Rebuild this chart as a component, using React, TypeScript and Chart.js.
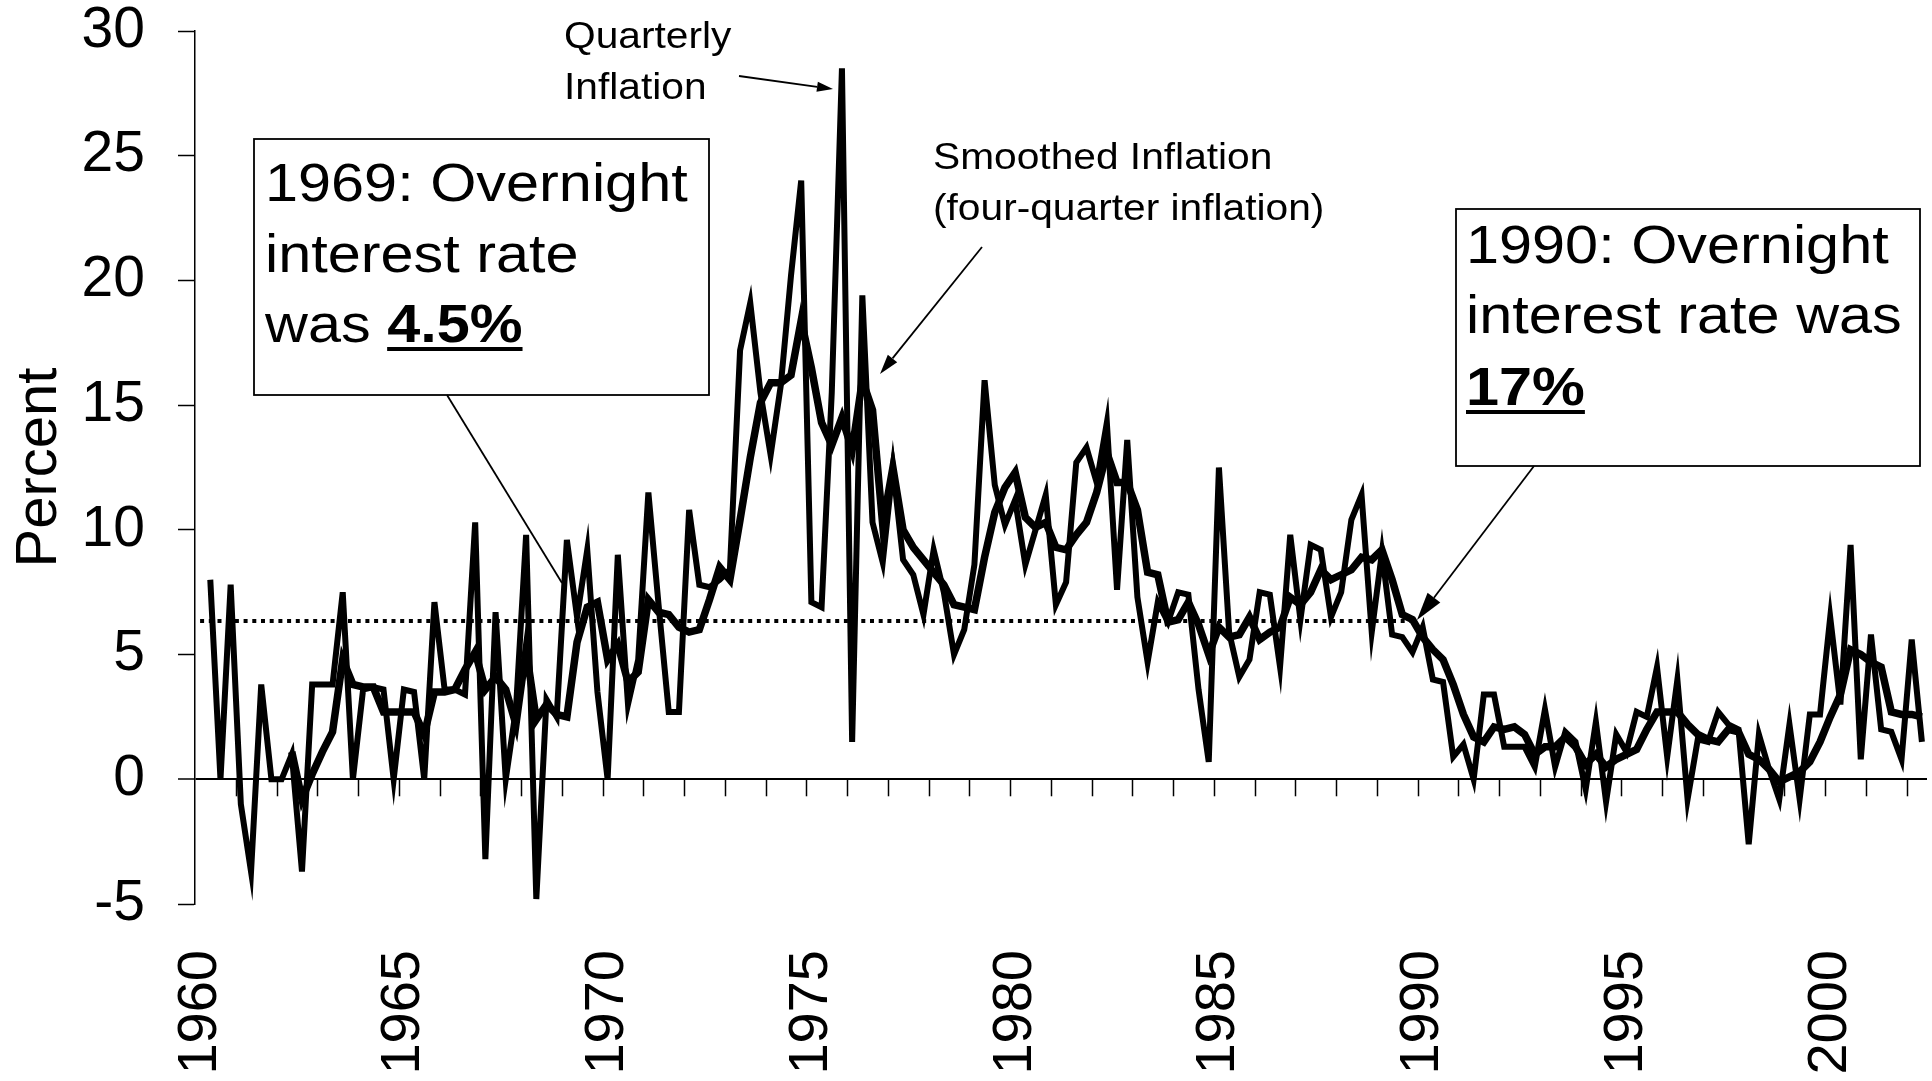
import React, { useEffect, useRef } from 'react';
import { Chart, registerables } from 'chart.js';

Chart.register(...registerables);

const W = 1932;
const H = 1081;
const FONT = "'Liberation Sans', Arial, Helvetica, sans-serif";

// Quarterly categories 1960Q1 .. 2002Q2
const startYear = 1960;
const quarterCount = 170;
const quarterLabels: string[] = Array.from({ length: quarterCount }, (_, i) => `${startYear + Math.floor(i / 4)}Q${(i % 4) + 1}`);

const yearTicks = ['1960', '1965', '1970', '1975', '1980', '1985', '1990', '1995', '2000'];
const yTickValues = [-5, 0, 5, 10, 15, 20, 25, 30];

const quarterlyInflation: (number | null)[] = [
  null,
  8.0, 0.0, 7.8, -1.0, -3.7, 3.8, 0.0, 0.0, 1.0, -3.7,
  3.8, 3.8, 3.8, 7.5, 0.0, 3.6, 3.7, 3.6, 0.0, 3.6,
  3.5, 0.0, 7.1, 3.6, 3.6, 3.4, 10.3, -3.2, 6.7, 0.0,
  2.8, 9.8, -4.8, 3.2, 2.5, 9.6, 6.5, 9.2, 3.5, 0.0,
  9.0, 3.0, 4.8, 11.5, 7.0, 2.7, 2.7, 10.8, 7.8, 7.7,
  8.0, 8.4, 17.2, 19.1, 15.5, 13.0, 15.8, 20.2, 24.0, 7.1,
  6.9, 15.5, 28.5, 1.5, 19.4, 10.3, 8.7, 12.5, 8.8, 8.2,
  6.6, 9.2, 7.5, 5.0, 6.0, 8.6, 16.0, 11.8, 10.2, 11.2,
  8.6, 10.0, 11.4, 7.0, 7.9, 12.7, 13.3, 11.9, 14.3, 7.6,
  13.6, 7.3, 4.7, 7.1, 6.3, 7.5, 7.4, 3.6, 0.7, 12.5,
  5.9, 4.1, 4.8, 7.5, 7.4, 4.5, 9.8, 6.4, 9.4, 9.2,
  6.5, 7.5, 10.4, 11.4, 5.9, 9.1, 5.8, 5.7, 5.1, 6.1,
  4.0, 3.9, 0.9, 1.4, 0.0, 3.4, 3.4, 1.3, 1.3, 1.3,
  0.5, 2.8, 0.5, 1.9, 1.5, -0.4, 2.3, -0.9, 1.8, 1.1,
  2.7, 2.5, 4.5, 0.9, 4.0, -0.8, 1.6, 1.5, 2.7, 2.2,
  2.0, -2.6, 1.8, 0.4, -0.8, 2.2, -0.8, 2.6, 2.6, 6.5,
  3.0, 9.4, 0.8, 5.8, 2.0, 1.9, 0.8, 5.6, 1.5,
];

const smoothedInflation: (number | null)[] = [
  null, null, null, null, null, null, null, null, null,
  1.1, -0.8, 0.2, 1.1, 1.9, 4.8, 3.8, 3.7, 3.7, 2.7,
  2.7, 2.7, 2.7, 1.8, 3.5, 3.5, 3.6, 4.4, 5.1, 3.6,
  4.1, 3.6, 2.2, 5.2, 2.4, 3.0, 2.6, 2.5, 5.5, 6.9,
  7.1, 4.8, 5.4, 3.9, 4.3, 7.2, 6.7, 6.6, 6.1, 5.9,
  6.0, 7.2, 8.5, 8.0, 10.4, 12.9, 15.1, 15.9, 15.9, 16.2,
  18.4, 16.5, 14.3, 13.4, 14.5, 13.2, 16.0, 14.8, 10.2, 12.5,
  10.0, 9.3, 8.8, 8.3, 7.8, 7.0, 6.9, 6.8, 8.9, 10.7,
  11.7, 12.3, 10.5, 10.1, 10.3, 9.3, 9.2, 9.8, 10.3, 11.5,
  13.1, 11.9, 11.9, 10.8, 8.3, 8.2, 6.3, 6.4, 7.1, 6.2,
  5.0, 6.1, 5.7, 5.8, 6.5, 5.6, 5.9, 6.1, 7.3, 7.0,
  7.5, 8.4, 8.0, 8.2, 8.4, 8.9, 8.8, 9.2, 8.0, 6.6,
  6.4, 5.7, 5.2, 4.8, 3.8, 2.6, 1.7, 1.5, 2.1, 2.0,
  2.1, 1.8, 1.0, 1.3, 1.3, 1.7, 1.3, 0.6, 1.0, 0.5,
  0.8, 1.0, 1.2, 2.0, 2.7, 2.7, 2.7, 2.2, 1.8, 1.6,
  1.5, 2.0, 1.9, 1.0, 0.8, 0.4, -0.1, 0.1, 0.3, 0.7,
  1.5, 2.5, 3.4, 5.2, 5.0, 4.7, 4.5, 2.7, 2.6, 2.6,
  2.5,
];

// Dotted reference line: average inflation
const averageInflation = 6.35;
const averageStart = '1960Q1';
const averageEnd = '1989Q4';

function drawStretchedText(ctx: CanvasRenderingContext2D, text: string, x: number, baseline: number, font: string, sx: number) {
  ctx.save();
  ctx.font = font;
  ctx.textAlign = 'left';
  ctx.textBaseline = 'alphabetic';
  ctx.translate(x, baseline);
  ctx.scale(sx, 1);
  ctx.fillText(text, 0, 0);
  const w = ctx.measureText(text).width * sx;
  ctx.restore();
  return w;
}

function arrow(ctx: CanvasRenderingContext2D, x1: number, y1: number, x2: number, y2: number, head: number, half: number, lw: number) {
  const ang = Math.atan2(y2 - y1, x2 - x1);
  const bx = x2 - Math.cos(ang) * head;
  const by = y2 - Math.sin(ang) * head;
  ctx.save();
  ctx.strokeStyle = '#000';
  ctx.fillStyle = '#000';
  ctx.lineWidth = lw;
  ctx.beginPath();
  ctx.moveTo(x1, y1);
  ctx.lineTo(bx, by);
  ctx.stroke();
  if (head > 0) {
    ctx.beginPath();
    ctx.moveTo(x2, y2);
    ctx.lineTo(bx + Math.sin(ang) * half, by - Math.cos(ang) * half);
    ctx.lineTo(bx - Math.sin(ang) * half, by + Math.cos(ang) * half);
    ctx.closePath();
    ctx.fill();
  }
  ctx.restore();
}

const axisTicksPlugin = {
  id: 'zeroAxisTicks',
  beforeDatasetsDraw(chart: any) {
    const { ctx, scales } = chart;
    const x = scales.x;
    const y = scales.y;
    const y0 = y.getPixelForValue(0);
    ctx.save();
    ctx.strokeStyle = '#000';
    ctx.lineWidth = 1.5;
    for (let k = 4; k < quarterLabels.length; k += 4) {
      const px = Math.round((x.getPixelForValue(k - 1) + x.getPixelForValue(k)) / 2) + 0.5;
      ctx.beginPath();
      ctx.moveTo(px, y0);
      ctx.lineTo(px, y0 + 17);
      ctx.stroke();
    }
    ctx.restore();
  },
};

const annotationPlugin = {
  id: 'annotations',
  afterDraw(chart: any) {
    const ctx: CanvasRenderingContext2D = chart.ctx;
    ctx.save();
    ctx.fillStyle = '#000';

    // Box 1 (1969)
    ctx.fillStyle = '#fff';
    ctx.fillRect(254, 139, 455, 256);
    ctx.strokeStyle = '#000';
    ctx.lineWidth = 1.8;
    ctx.strokeRect(254, 139, 455, 256);
    ctx.fillStyle = '#000';
    const big = `54px ${FONT}`;
    const bigBold = `bold 54px ${FONT}`;
    const sxBig = 1.1;
    drawStretchedText(ctx, '1969: Overnight', 265, 201, big, sxBig);
    drawStretchedText(ctx, 'interest rate', 265, 272, big, sxBig);
    let w = drawStretchedText(ctx, 'was ', 265, 342, big, sxBig);
    let wb = drawStretchedText(ctx, '4.5%', 265 + w, 342, bigBold, sxBig);
    ctx.fillRect(265 + w, 347, wb, 4);

    // Box 2 (1990)
    ctx.fillStyle = '#fff';
    ctx.fillRect(1456, 209, 464, 257);
    ctx.strokeRect(1456, 209, 464, 257);
    ctx.fillStyle = '#000';
    drawStretchedText(ctx, '1990: Overnight', 1466, 263, big, sxBig);
    drawStretchedText(ctx, 'interest rate was', 1466, 333, big, sxBig);
    wb = drawStretchedText(ctx, '17%', 1466, 405, bigBold, sxBig);
    ctx.fillRect(1466, 410, wb, 4);

    // Small labels
    const small = `37px ${FONT}`;
    const sxSmall = 1.1;
    drawStretchedText(ctx, 'Quarterly', 564, 48, small, sxSmall);
    drawStretchedText(ctx, 'Inflation', 564, 99, small, sxSmall);
    drawStretchedText(ctx, 'Smoothed Inflation', 933, 169, small, sxSmall);
    drawStretchedText(ctx, '(four-quarter inflation)', 933, 220, small, sxSmall);

    // Arrows / leader lines
    arrow(ctx, 739, 76, 833, 89, 16, 5, 1.8);
    arrow(ctx, 982, 247, 880, 374, 20, 6, 1.8);
    arrow(ctx, 447, 395, 562, 583, 0, 0, 1.8);
    arrow(ctx, 1534, 466, 1417, 620, 28, 8, 1.8);

    ctx.restore();
  },
};

export default function App() {
  const canvasRef = useRef<HTMLCanvasElement | null>(null);

  useEffect(() => {
    document.documentElement.style.overflow = 'hidden';
    document.body.style.margin = '0';
    document.body.style.overflow = 'hidden';
    const canvas = canvasRef.current;
    if (!canvas) return;

    const chart = new Chart(canvas, {
      type: 'line',
      data: {
        labels: quarterLabels,
        datasets: [
          {
            label: 'Quarterly Inflation',
            data: quarterlyInflation,
            borderColor: '#000',
            backgroundColor: '#000',
            borderWidth: 6,
            pointRadius: 0,
            tension: 0,
            fill: false,
          },
          {
            label: 'Smoothed Inflation (four-quarter inflation)',
            data: smoothedInflation,
            borderColor: '#000',
            backgroundColor: '#000',
            borderWidth: 7.5,
            pointRadius: 0,
            tension: 0,
            fill: false,
          },
          {
            label: 'Average',
            data: [
              { x: averageStart, y: averageInflation },
              { x: averageEnd, y: averageInflation },
            ] as any,
            borderColor: '#000',
            borderWidth: 4,
            borderDash: [4, 4.7],
            pointRadius: 0,
            tension: 0,
            fill: false,
          },
        ],
      },
      options: {
        responsive: false,
        maintainAspectRatio: false,
        animation: false,
        devicePixelRatio: 1,
        events: [],
        layout: { padding: { top: 31, right: 5, bottom: 0, left: 0 } },
        plugins: {
          legend: { display: false },
          tooltip: { enabled: false },
        },
        scales: {
          x: {
            type: 'category',
            offset: true,
            grid: { display: false, drawTicks: false },
            border: { display: false },
            ticks: {
              autoSkip: false,
              minRotation: 90,
              maxRotation: 90,
              padding: 46,
              color: '#000',
              font: { family: FONT, size: 56, lineHeight: 1.2 },
              callback: (_v: any, index: number) => (index % 20 === 0 && yearTicks[index / 20] ? yearTicks[index / 20] : ''),
            },
            afterFit: (s: any) => {
              s.height = H - 904;
              s.paddingLeft = 0;
              s.paddingRight = 0;
            },
          },
          y: {
            min: -5,
            max: 30,
            afterBuildTicks: (s: any) => {
              s.ticks = yTickValues.map((v) => ({ value: v }));
            },
            ticks: {
              stepSize: 5,
              padding: 33,
              color: '#000',
              font: { family: FONT, size: 57, lineHeight: 1 },
            },
            grid: {
              drawOnChartArea: true,
              color: (c: any) => (c.tick && c.tick.value === 0 ? '#000' : 'rgba(0,0,0,0)'),
              lineWidth: (c: any) => (c.tick && c.tick.value === 0 ? 2 : 1),
              tickColor: '#000',
              tickLength: 17,
              tickWidth: 1.5,
            },
            border: { display: true, color: '#000', width: 1.5 },
            title: {
              display: true,
              text: 'Percent',
              color: '#000',
              font: { family: FONT, size: 58, lineHeight: 1.2 },
              padding: { top: 5, bottom: 0 },
            },
            afterFit: (s: any) => {
              s.width = 195;
              s.paddingTop = 0;
              s.paddingBottom = 0;
            },
          },
        },
      },
      plugins: [axisTicksPlugin, annotationPlugin],
    });

    return () => chart.destroy();
  }, []);

  return (
    <div style={{ position: 'absolute', left: 0, top: 0, width: W, height: H, background: '#fff' }}>
      <canvas ref={canvasRef} width={W} height={H} style={{ display: 'block', width: W, height: H }} />
    </div>
  );
}
